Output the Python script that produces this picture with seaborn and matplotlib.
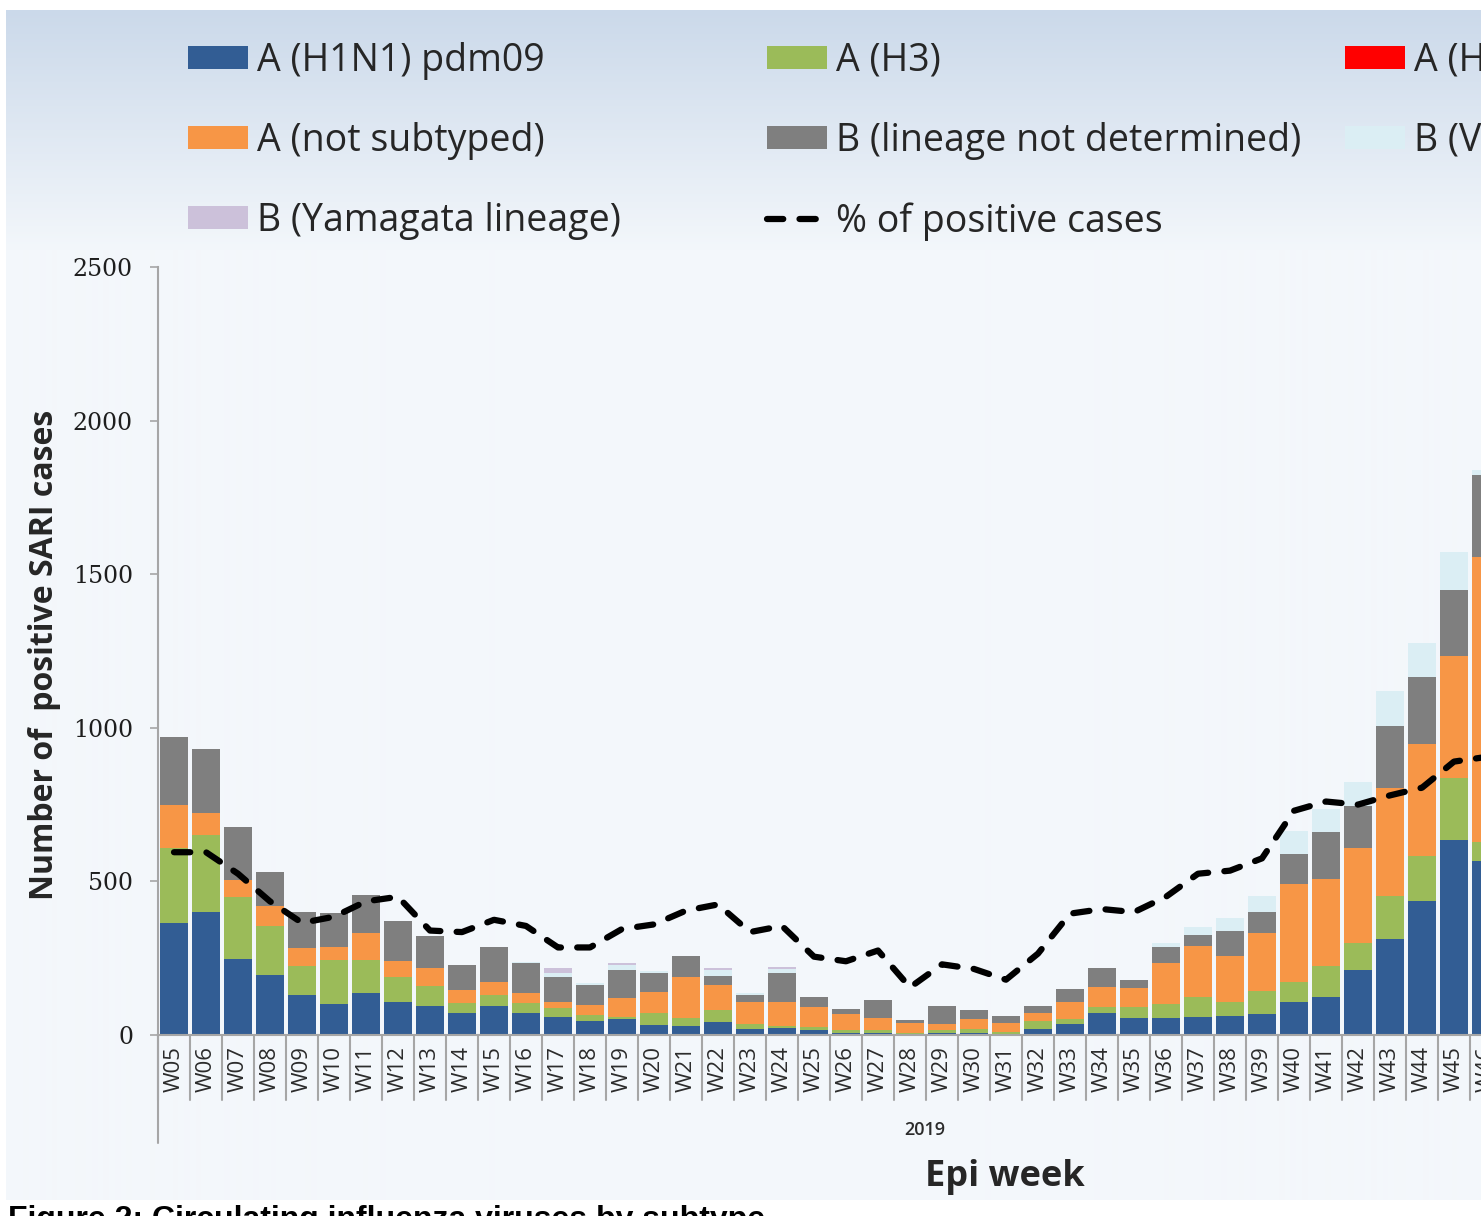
import numpy as np
import pandas as pd
import matplotlib.pyplot as plt
import seaborn as sns
from matplotlib.patches import Patch
from matplotlib.lines import Line2D
from matplotlib.transforms import blended_transform_factory

# datos (casos positivos SARI por semana, 2019)
weeks = ['W05', 'W06', 'W07', 'W08', 'W09', 'W10', 'W11', 'W12', 'W13', 'W14',
         'W15', 'W16', 'W17', 'W18', 'W19', 'W20', 'W21', 'W22', 'W23', 'W24',
         'W25', 'W26', 'W27', 'W28', 'W29', 'W30', 'W31', 'W32', 'W33', 'W34',
         'W35', 'W36', 'W37', 'W38', 'W39', 'W40', 'W41', 'W42', 'W43', 'W44',
         'W45', 'W46']
h1n1 = [365, 400, 247, 195, 130, 101, 137, 107, 94, 72, 94, 72, 59, 46, 52, 33,
        29, 42, 20, 23, 16, 7, 7, 3, 7, 7, 3, 20, 36, 72, 55, 55, 59, 62, 69,
        107, 123, 211, 314, 436, 636, 568]
h3 = [244, 251, 202, 160, 95, 143, 107, 82, 66, 32, 36, 32, 29, 19, 5, 39, 26,
      39, 16, 6, 10, 9, 9, 4, 9, 13, 7, 26, 16, 19, 36, 46, 65, 47, 74, 67, 102,
      87, 139, 146, 202, 61]
h_red = [0] * 42
not_subtyped = [140, 72, 56, 65, 58, 42, 88, 52, 58, 42, 43, 33, 19, 33, 65, 68,
                134, 82, 71, 78, 65, 52, 39, 32, 20, 32, 29, 26, 55, 65, 62, 133,
                166, 149, 189, 316, 283, 311, 351, 364, 396, 927]
b_nd = [221, 208, 172, 111, 117, 111, 124, 130, 104, 82, 113, 97, 82, 65, 88, 62,
        68, 29, 23, 95, 33, 17, 59, 10, 58, 29, 23, 22, 43, 62, 26, 52, 35, 81,
        70, 99, 152, 135, 203, 219, 214, 267]
b_vic = [0, 0, 0, 0, 0, 0, 0, 0, 0, 0, 0, 5, 12, 5, 18, 6, 0, 18, 7, 12, 0, 0, 0,
         0, 0, 0, 0, 0, 0, 0, 0, 13, 27, 43, 52, 74, 77, 78, 114, 111, 125, 15]
b_yam = [0, 0, 0, 0, 0, 0, 0, 0, 0, 0, 0, 0, 17, 0, 8, 0, 0, 8, 0, 7, 0, 0, 0, 0,
         0, 0, 0, 0, 0, 0, 0, 0, 0, 0, 0, 0, 0, 0, 0, 0, 0, 0]
pct_pos = [11.9, 11.9, 10.5, 8.7, 7.3, 7.7, 8.7, 9.0, 6.8, 6.7, 7.5, 7.1, 5.7, 5.7,
           6.9, 7.2, 8.1, 8.5, 6.7, 7.1, 5.1, 4.8, 5.5, 3.1, 4.6, 4.3, 3.6, 5.3,
           7.9, 8.2, 8.0, 9.0, 10.5, 10.7, 11.5, 14.6, 15.2, 15.0, 15.6, 16.1,
           17.8, 18.1]

series = [
    ('A (H1N1) pdm09', h1n1, '#325d94'),
    ('A (H3)', h3, '#9bbb59'),
    ('A (H5)', h_red, '#ff0000'),
    ('A (not subtyped)', not_subtyped, '#f79646'),
    ('B (lineage not determined)', b_nd, '#7f7f7f'),
    ('B (Victoria lineage)', b_vic, '#dbeef4'),
    ('B (Yamagata lineage)', b_yam, '#ccc1da'),
]

sns.set_theme(style='ticks')
plt.rcParams['font.family'] = ['Open Sans', 'DejaVu Sans']

W, H = 1481, 1216
fig = plt.figure(figsize=(W / 100, H / 100), dpi=100, facecolor='white')

# fondo con degradado
bg = fig.add_axes([6 / W, 1 - 1200 / H, 1 - 6 / W, 1190 / H])
bg.axis('off')
top_c = np.array([0xcb, 0xd9, 0xea]) / 255
mid_c = np.array([0xf3, 0xf7, 0xfb]) / 255
t = np.clip(np.arange(1190) / 240, 0, 1)[:, None]
grad = (top_c * (1 - t) + mid_c * t)[:, None, :]
bg.imshow(grad, aspect='auto')
bg.set_zorder(0)

ax = fig.add_axes([158 / W, 1 - 1035 / H, 1344 / W, 768 / H])
ax.set_zorder(1)
ax.patch.set_visible(False)

# barras apiladas: se dibuja el acumulado de arriba hacia abajo
df = pd.DataFrame({name: vals for name, vals, _ in series}, index=weeks)
cum = df.cumsum(axis=1)
for name, _, color in reversed(series):
    sns.barplot(x=weeks, y=cum[name].values, color=color, saturation=1,
                width=0.87, linewidth=0, errorbar=None, ax=ax)

ax.set_xlim(-0.5, len(weeks) - 0.5)
ax.set_ylim(0, 2500)
ax.set_yticks(range(0, 2501, 500))
ax.tick_params(axis='x', labelrotation=90, length=0, pad=8, labelsize=16,
               labelcolor='#2b2b2b')
ax.tick_params(axis='y', length=6, width=1.2, color='#a6a6a6', pad=12,
               labelsize=17, labelcolor='#1e1e1e')
for lab in ax.get_yticklabels():
    lab.set_fontfamily('DejaVu Serif')
for s in ['top', 'right']:
    ax.spines[s].set_visible(False)
for s in ['left', 'bottom']:
    ax.spines[s].set_color('#a6a6a6')
    ax.spines[s].set_linewidth(1.5)
ax.set_xlabel('')
ax.set_ylabel('')

# separadores del eje de categorias
tr = blended_transform_factory(ax.transData, ax.transAxes)
for k in range(len(weeks) + 1):
    ax.plot([k - 0.5, k - 0.5], [0, -0.085], transform=tr, clip_on=False,
            color='#a6a6a6', lw=1.5)
ax.plot([-0.5, -0.5], [0, -0.1406], transform=tr, clip_on=False,
        color='#a6a6a6', lw=1.5)

# linea de % de positivos en eje secundario (fuera de la imagen)
ax2 = ax.twinx()
ax2.set_zorder(2)
dash = (0, (2.6, 2.6))
sns.lineplot(x=np.arange(len(weeks)), y=pct_pos, color='black', linewidth=4.5,
             linestyle=dash, dash_capstyle='round', ax=ax2)
ax2.set_ylim(0, 50)
ax2.set_xlim(-0.5, len(weeks) - 0.5)
ax2.axis('off')

# leyenda en tres columnas
patches = {name: Patch(facecolor=color, edgecolor='none') for name, _, color in series}
line_h = Line2D([], [], color='black', lw=4.5, linestyle=dash, dash_capstyle='round')
cols = [
    (188, ['A (H1N1) pdm09', 'A (not subtyped)', 'B (Yamagata lineage)']),
    (767, ['A (H3)', 'B (lineage not determined)', '% of positive cases']),
    (1345, ['A (H5)', 'B (Victoria lineage)']),
]
for x0, labels in cols:
    handles = [line_h if l.startswith('%') else patches[l] for l in labels]
    fig.legend(handles, labels, loc='upper left',
               bbox_to_anchor=(x0 / W, 1 - 42 / H), frameon=False, fontsize=27,
               handlelength=1.6, handleheight=0.58, handletextpad=0.25,
               labelspacing=1.12, borderpad=0, borderaxespad=0,
               labelcolor='#262626')

fig.text(45 / W, 1 - 655 / H, 'Number of  positive SARI cases', rotation=90,
         ha='center', va='center', fontsize=23, fontweight='bold', color='#262626')
fig.text(925 / W, 1 - 1130 / H, '2019', ha='center', va='center', fontsize=13,
         fontweight='semibold', color='#2b2b2b')
fig.text(1005 / W, 1 - 1177 / H, 'Epi week', ha='center', va='center',
         fontsize=26, fontweight='bold', color='#262626')
fig.text(8 / W, 1 - 1205 / H, 'Figure 2: Circulating influenza viruses by subtype',
         ha='left', va='top', fontsize=23, fontweight='bold',
         fontfamily='Liberation Sans', color='black')

fig.savefig('out.png', dpi=100, facecolor='white')
